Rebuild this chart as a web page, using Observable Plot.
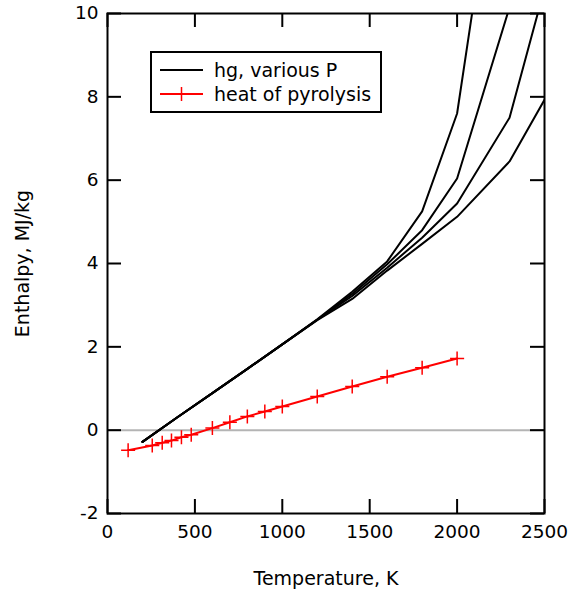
<!DOCTYPE html>
<html>
<head>
<meta charset="utf-8">
<script src="https://cdn.jsdelivr.net/npm/d3@7"></script>
<script src="https://cdn.jsdelivr.net/npm/@observablehq/plot@0.6"></script>
<style>
  html, body { margin: 0; padding: 0; background: #fff; }
  #wrap { position: relative; width: 578px; height: 597px; font-family: "DejaVu Sans", sans-serif; }
  #legend { position: absolute; left: 150px; top: 51px; width: 228px; height: 58px; border: 2px solid #000; background: #fff; font-size: 19px; }
  #legend .row { position: absolute; left: 8px; height: 22px; display: flex; align-items: center; }
  #legend svg { margin-right: 11px; }
</style>
</head>
<body>
<div id="wrap">
  <div id="legend">
    <div class="row" style="top:6px"><svg width="43" height="14"><line x1="0" y1="7" x2="43" y2="7" stroke="#000" stroke-width="2"/></svg><span>hg, various P</span></div>
    <div class="row" style="top:30px"><svg width="43" height="14"><line x1="0" y1="7" x2="43" y2="7" stroke="red" stroke-width="2"/><line x1="21.5" y1="0" x2="21.5" y2="14" stroke="red" stroke-width="1.5"/></svg><span>heat of pyrolysis</span></div>
  </div>
</div>
<script>
// Temperatures (K) for the hg curves
const hgT = [200, 400, 600, 800, 1000, 1200, 1400, 1600, 1800, 2000, 2300, 2500];
// hg enthalpy (MJ/kg) for four pressures
const hgA = [-0.28, 0.31, 0.89, 1.47, 2.06, 2.66, 3.32, 4.05, 5.25, 7.60, 16.0, null];
const hgB = [-0.28, 0.31, 0.89, 1.47, 2.06, 2.65, 3.27, 3.98, 4.80, 6.04, 10.15, null];
const hgC = [-0.28, 0.31, 0.89, 1.47, 2.06, 2.65, 3.22, 3.90, 4.62, 5.44, 7.50, 10.6];
const hgD = [-0.28, 0.31, 0.89, 1.47, 2.06, 2.64, 3.15, 3.83, 4.47, 5.12, 6.45, 7.93];
// heat of pyrolysis
const pyroT = [118, 256, 313, 366, 423, 479, 600, 700, 800, 900, 1000, 1200, 1400, 1600, 1800, 2000];
const pyroH = [-0.48, -0.37, -0.30, -0.25, -0.17, -0.11, 0.05, 0.19, 0.33, 0.45, 0.57, 0.81, 1.05, 1.28, 1.50, 1.72];
// ticks
const xTicks = [0, 500, 1000, 1500, 2000, 2500];
const yTicks = [-2, 0, 2, 4, 6, 8, 10];

const hgSeries = [["A", hgA], ["B", hgB], ["C", hgC], ["D", hgD]];
const hgData = hgSeries.flatMap(([k, vals]) => hgT.map((t, i) => ({series: k, T: t, H: vals[i]})));
const pyroData = pyroT.map((t, i) => ({T: t, H: pyroH[i]}));

const W = 578, H = 597;
const mL = 107, mR = 34, mT = 13, mB = 84;
const innerW = W - mL - mR, innerH = H - mT - mB;
const tick = 14;

const chart = Plot.plot({
  width: W, height: H,
  marginLeft: mL, marginRight: mR, marginTop: mT, marginBottom: mB,
  style: {fontFamily: "DejaVu Sans, sans-serif", fontSize: "18px", color: "#000", background: "#fff"},
  x: {domain: [0, 2500]},
  y: {domain: [-2, 10]},
  marks: [
    Plot.ruleY([0], {stroke: "#b4b4b4", strokeWidth: 2}),
    Plot.line(hgData, {x: "T", y: "H", z: "series", stroke: "#000", strokeWidth: 2, clip: true}),
    Plot.line(pyroData, {x: "T", y: "H", stroke: "red", strokeWidth: 2}),
    Plot.dot(pyroData, {x: "T", y: "H", symbol: "plus", r: 4.6, stroke: "red", strokeWidth: 1.5}),
    // inward ticks
    Plot.ruleX(xTicks, {x: d => d, insetTop: innerH - tick, stroke: "#000", strokeWidth: 2}),
    Plot.ruleX(xTicks, {x: d => d, insetBottom: innerH - tick, stroke: "#000", strokeWidth: 2}),
    Plot.ruleY(yTicks, {y: d => d, insetRight: innerW - tick, stroke: "#000", strokeWidth: 2}),
    Plot.ruleY(yTicks, {y: d => d, insetLeft: innerW - tick, stroke: "#000", strokeWidth: 2}),
    Plot.frame({stroke: "#000", strokeWidth: 2}),
    Plot.axisX({ticks: xTicks, tickSize: 0, tickPadding: 11, tickFormat: d => String(d), label: null, fontSize: 18.5}),
    Plot.axisY({ticks: yTicks, tickSize: 0, tickPadding: 9, tickFormat: d => String(d), label: null, fontSize: 18.5}),
    Plot.text(["Temperature, K"], {text: d => d, frameAnchor: "bottom", dy: 65, lineAnchor: "middle", textAnchor: "middle", fontSize: 19, fill: "#000"}),
    Plot.text(["Enthalpy, MJ/kg"], {text: d => d, frameAnchor: "left", dx: -85, rotate: -90, lineAnchor: "middle", textAnchor: "middle", fontSize: 19, fill: "#000"})
  ]
});
document.getElementById("wrap").prepend(chart);
chart.style.position = "absolute";
chart.style.left = "0";
chart.style.top = "0";
</script>
</body>
</html>
